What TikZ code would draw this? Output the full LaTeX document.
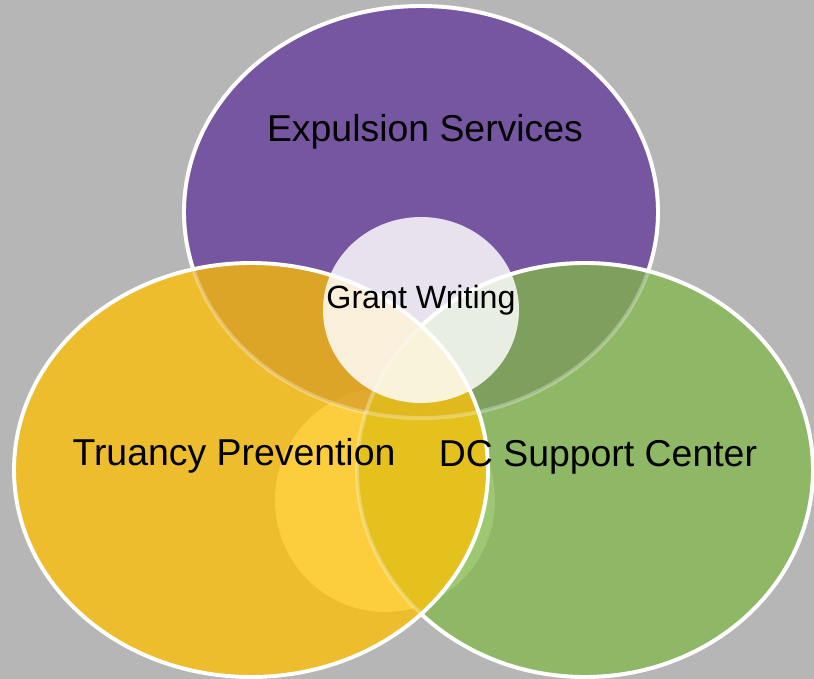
\documentclass[tikz,border=0pt]{standalone}
\usepackage{fontspec}
\setmainfont{Liberation Sans}
\definecolor{bgc}{HTML}{B6B6B6}
\definecolor{pur}{HTML}{7756A1}
\definecolor{yel}{HTML}{EDBD2E}
\definecolor{grn}{HTML}{8FB866}
\definecolor{pyc}{HTML}{DCA528}
\definecolor{pgc}{HTML}{7E9F5E}
\definecolor{ygc}{HTML}{E5C11D}
\definecolor{pygc}{HTML}{DFB91E}
\definecolor{hly}{HTML}{FCCD3C}
\definecolor{hlg}{HTML}{9DC772}
\definecolor{hlpy}{HTML}{E1AA2E}
\tikzset{
  wline/.style={draw=white, line width=3.9pt},
  faint/.style={draw=white, line width=3.9pt, draw opacity=0.3},
  bigtxt/.style={font=\fontsize{37.4}{44}\selectfont, text=black, anchor=base, inner sep=0pt},
  smalltxt/.style={font=\fontsize{32.2}{38}\selectfont, text=black, anchor=base, inner sep=0pt}
}
\def\Ppath{(421,212) ellipse [x radius=237, y radius=206]}
\def\Ypath{(251,470) ellipse [x radius=237, y radius=207]}
\def\Gpath{(585,470) ellipse [x radius=228, y radius=207]}
\def\Hpath{(385,500) ellipse [x radius=110, y radius=112]}
\def\Cpath{(421,310) ellipse [x radius=98, y radius=93]}
\begin{document}
\begin{tikzpicture}[x=1pt,y=-1pt]
\fill[bgc] (0,0) rectangle (814,679);
\useasboundingbox (0,0) rectangle (814,679);
% purple
\fill[pur] \Ppath;
\draw[wline] \Ppath;
% green
\fill[grn] \Gpath;
\begin{scope}\clip \Gpath; \fill[hlg] \Hpath; \end{scope}
\begin{scope}\clip \Ppath; \fill[pgc] \Gpath; \end{scope}
\draw[wline] \Gpath;
% yellow
\fill[yel] \Ypath;
\begin{scope}\clip \Ypath; \fill[hly] \Hpath; \end{scope}
\begin{scope}\clip \Ppath; \fill[pyc] \Ypath; \end{scope}
\begin{scope}\clip \Ppath; \clip \Ypath; \fill[hlpy] \Hpath; \end{scope}
\begin{scope}\clip \Gpath; \fill[ygc] \Ypath; \end{scope}
\begin{scope}\clip \Gpath; \clip \Ppath; \fill[pygc] \Ypath; \end{scope}
% faint outlines
\draw[faint] \Ppath;
\draw[faint] \Gpath;
\draw[wline] \Ypath;
% centre
\fill[white, fill opacity=0.83] \Cpath;
% texts
\node[bigtxt] (exp) at (425,142) {Expulsion Services};
\node[bigtxt] (tru) at (234,465) {Truancy Prevention};
\node[bigtxt] (dcs) at (598,466) {DC Support Center};
\node[smalltxt] (grw) at (421,308) {Grant Writing};
\end{tikzpicture}
\end{document}
